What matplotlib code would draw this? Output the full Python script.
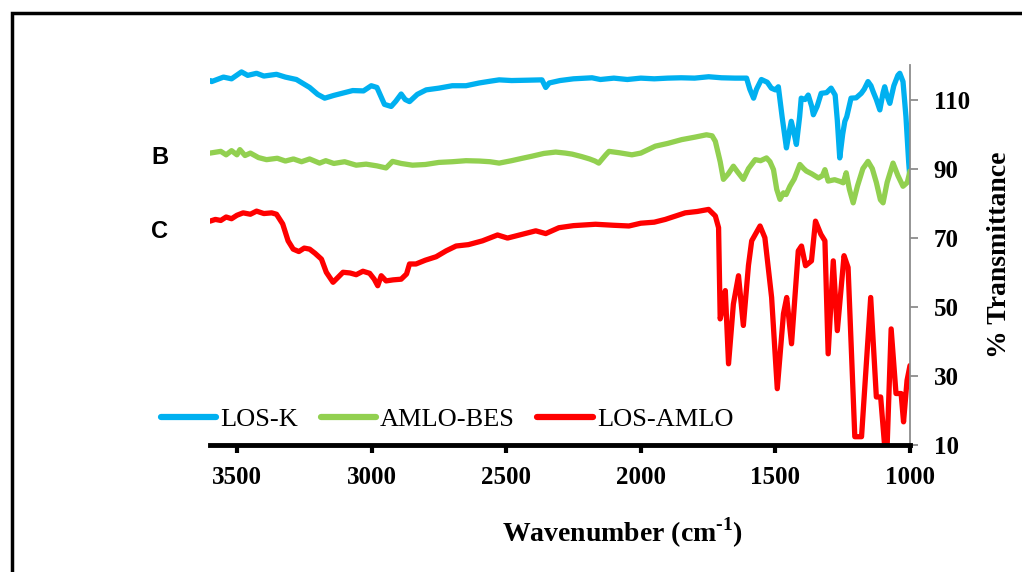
import matplotlib
matplotlib.use("Agg")
import matplotlib.pyplot as plt
from matplotlib.patches import Rectangle

# LOS-K
wn_losk = [3600, 3594, 3550, 3520, 3483, 3460, 3427, 3400, 3353, 3320, 3279, 3230, 3200, 3174, 3140,
           3100, 3070, 3030, 3001, 2980, 2952, 2927, 2910, 2890, 2875, 2859, 2830, 2797, 2750, 2700,
           2649, 2600, 2560, 2526, 2480, 2420, 2367, 2353, 2340, 2300, 2250, 2181, 2150, 2100, 2050,
           2000, 1950, 1900, 1850, 1800, 1748, 1700, 1650, 1607, 1595, 1581, 1570, 1552, 1530, 1515,
           1500, 1489, 1475, 1459, 1450, 1441, 1430, 1422, 1410, 1404, 1390, 1378, 1365, 1359, 1345,
           1330, 1310, 1293, 1278, 1270, 1261, 1250, 1242, 1235, 1219, 1200, 1181, 1170, 1156, 1145,
           1137, 1125, 1112, 1100, 1094, 1085, 1075, 1060, 1045, 1038, 1026, 1015, 1005, 1000]
t_losk = [115.5, 115.2, 116.5, 116, 118, 117, 117.6, 116.8, 117.3, 116.5, 115.8, 113.5, 111.5, 110.4, 111.2,
          112, 112.6, 112.5, 114, 113.5, 108.6, 108, 109.5, 111.6, 110, 109.4, 111.5, 112.8, 113.3, 114,
          114, 114.8, 115.3, 115.7, 115.5, 115.6, 115.7, 113.5, 114.8, 115.5, 116, 116.3, 115.8, 116.2, 115.8,
          116.2, 116, 116.2, 116.3, 116.2, 116.6, 116.3, 116.2, 116.2, 113, 110.4, 113, 115.8, 115, 113.3,
          112.8, 113.7, 105, 96, 100, 103.7, 100, 97, 105, 110.4, 110, 111.3, 108, 105.6, 108,
          111.8, 112, 113.3, 111.3, 104, 93.1, 100, 103.7, 105, 110.4, 110.5, 111.8, 113, 115.2, 114,
          112.3, 110, 107, 112, 113.7, 111, 108.9, 114, 117, 117.6, 115.2, 105, 92, 87]

# AMLO-BES
wn_amlo = [3600, 3560, 3540, 3520, 3500, 3489, 3470, 3450, 3420, 3390, 3350, 3320, 3290, 3260, 3230,
           3193, 3170, 3140, 3100, 3057, 3020, 2980, 2946, 2922, 2890, 2848, 2800, 2750, 2700, 2649,
           2600, 2560, 2526, 2480, 2440, 2404, 2360, 2316, 2280, 2255, 2220, 2190, 2170, 2156, 2130,
           2118, 2080, 2033, 2000, 1946, 1900, 1848, 1800, 1756, 1735, 1723, 1705, 1693, 1675, 1656,
           1640, 1619, 1600, 1575, 1555, 1533, 1520, 1507, 1495, 1483, 1470, 1460, 1446, 1430, 1409,
           1395, 1385, 1365, 1340, 1325, 1316, 1304, 1280, 1260, 1248, 1237, 1225, 1211, 1195, 1175,
           1156, 1140, 1125, 1110, 1100, 1085, 1063, 1045, 1026, 1010, 1000]
t_amlo = [94.5, 95, 94, 95.2, 94, 95.5, 93.8, 94.5, 93.2, 92.6, 93, 92.2, 92.8, 92, 92.8,
          91.6, 92.3, 91.5, 92, 91, 91.3, 90.8, 90.2, 92.1, 91.5, 91, 91.2, 91.8, 92, 92.3,
          92.2, 92, 91.6, 92.3, 93, 93.6, 94.4, 94.8, 94.5, 94.2, 93.5, 92.8, 92.2, 91.6, 94,
          95, 94.6, 94, 94.5, 96.5, 97.3, 98.4, 99.1, 99.8, 99.5, 97.9, 92, 86.9, 88.5, 90.7,
          89, 86.9, 90, 92.6, 92.3, 93.1, 92, 89.7, 84, 81.1, 83, 82.5, 84.9, 87, 91.2,
          90, 89.3, 88.5, 87.3, 88, 89.7, 86.4, 86.8, 86.3, 85.9, 88.8, 84, 80.1, 85, 90,
          92.1, 90, 86, 81, 80.1, 86, 91.6, 88, 84.9, 86, 89.3]

# LOS-AMLO
wn_mix = [3600, 3580, 3560, 3540, 3520, 3500, 3477, 3450, 3427, 3400, 3371, 3353, 3330, 3310, 3291,
          3270, 3250, 3230, 3210, 3186, 3168, 3143, 3125, 3106, 3080, 3057, 3032, 3007, 2990, 2977,
          2964, 2946, 2920, 2890, 2870, 2859, 2835, 2800, 2760, 2723, 2686, 2640, 2588, 2532, 2495,
          2450, 2390, 2353, 2304, 2250, 2168, 2100, 2044, 2000, 1950, 1909, 1870, 1835, 1790, 1748,
          1723, 1711, 1705, 1695, 1686, 1674, 1656, 1637, 1619, 1600, 1588, 1557, 1539, 1514, 1493,
          1470, 1458, 1440, 1415, 1403, 1388, 1366, 1351, 1331, 1316, 1304, 1285, 1270, 1245, 1230,
          1205, 1180, 1146, 1125, 1109, 1094, 1085, 1070, 1052, 1033, 1024, 1011, 1000]
t_mix = [74.8, 75.3, 75, 76, 75.5, 76.5, 77.2, 76.8, 77.7, 77, 77.2, 76.8, 74, 69.1, 66.7,
         66, 67, 66.7, 65.5, 63.8, 60, 57.1, 58.5, 60, 59.8, 59.3, 60.3, 59.7, 58, 56.1,
         59, 57.5, 57.8, 58, 59.5, 62.4, 62.4, 63.5, 64.5, 66.2, 67.6, 68, 69.1, 70.8, 69.9,
         70.8, 72, 71.2, 72.9, 73.5, 73.9, 73.6, 73.4, 74.2, 74.5, 75.3, 76.3, 77.2, 77.6, 78.2,
         76.3, 72.9, 46.5, 50, 54.7, 33.5, 50.8, 59, 44.6, 62, 69.1, 73.4, 70, 52.7, 26.3,
         48, 52.7, 39.3, 66.2, 67.6, 61.9, 63.3, 74.8, 71, 69.1, 36.4, 63.3, 43.1, 64.8, 61.4,
         12.4, 12.4, 52.7, 23.9, 23.9, 9.5, 9.5, 43.6, 24.9, 24.9, 16.7, 28.7, 33]

y_ticks = [10, 30, 50, 70, 90, 110]
x_ticks = [3500, 3000, 2500, 2000, 1500, 1000]

serif = ['Liberation Serif', 'DejaVu Serif']
plt.rcParams['mathtext.fontset'] = 'custom'
plt.rcParams['mathtext.rm'] = 'Liberation Serif:bold'
plt.rcParams['mathtext.bf'] = 'Liberation Serif:bold'

fig = plt.figure(figsize=(10.22, 5.72), dpi=100)
ax = fig.add_axes([210 / 1022, 1 - 445 / 572, 700 / 1022, 380 / 572])

lines = []
for wn, t, c, name in [(wn_losk, t_losk, '#00B0F0', 'LOS-K'),
                       (wn_amlo, t_amlo, '#92D050', 'AMLO-BES'),
                       (wn_mix, t_mix, '#FF0000', 'LOS-AMLO')]:
    ln, = ax.plot(wn, t, color=c, lw=3.8, label=name,
                  solid_joinstyle='round', solid_capstyle='round')
    lines.append(ln)

ax.set_xlim(3600, 1000)
ax.set_ylim(10, 120)
ax.set_xticks(x_ticks)
ax.set_yticks(y_ticks)

ax.spines['top'].set_visible(False)
ax.spines['left'].set_visible(False)
ax.spines['bottom'].set_linewidth(3.5)
ax.spines['bottom'].set_color('black')
ax.spines['right'].set_linewidth(1.3)
ax.spines['right'].set_color('#8c8c8c')
ax.yaxis.tick_right()
ax.tick_params(axis='x', length=6, width=3, color='black', pad=9)
ax.tick_params(axis='y', length=6, width=1.3, color='#8c8c8c', pad=11)
for lab in ax.get_xticklabels() + ax.get_yticklabels():
    lab.set_fontfamily(serif)
    lab.set_fontweight('bold')
    lab.set_fontsize(18)

fig.text(622 / 1022, 1 - 533 / 572, 'Wavenumber (cm$^{\\text{-1}}$)', ha='center', va='center',
         fontsize=20, fontweight='bold', family=serif)
fig.text(1000 / 1022, 1 - 255 / 572, '% Transmittance', ha='center', va='center', rotation=90,
         fontsize=20, fontweight='bold', family=serif)

fig.text(160 / 1022, 1 - 158 / 572, 'B', ha='center', va='center', fontsize=17,
         fontweight='bold', family=['Liberation Sans', 'DejaVu Sans'])
fig.text(160 / 1022, 1 - 232 / 572, 'C', ha='center', va='center', fontsize=17,
         fontweight='bold', family=['Liberation Sans', 'DejaVu Sans'])

leg = fig.legend(handles=lines, loc='center left', bbox_to_anchor=(161 / 1022, 1 - 419 / 572),
                 ncol=3, frameon=False, handlelength=2.1, handletextpad=0.15, columnspacing=0.85,
                 borderaxespad=0, borderpad=0, prop={'family': serif, 'size': 19})
for h in leg.get_lines():
    h.set_linewidth(4.5)
    h.set_solid_capstyle('round')

# outer frame (right and bottom edges fall outside the image)
fig.patches.append(Rectangle((12 / 1022, -0.1), 1.2, 1 - 13 / 572 + 0.1, transform=fig.transFigure,
                             fill=False, lw=2.5, ec='black'))

fig.savefig('out.png', dpi=100)
